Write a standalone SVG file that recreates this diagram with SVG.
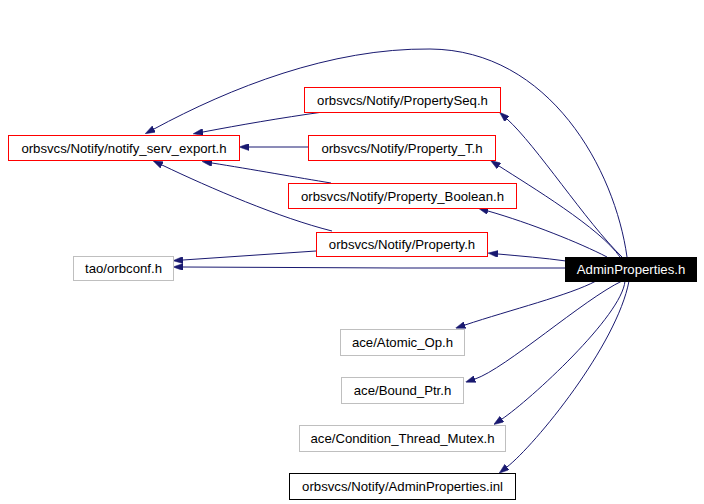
<svg xmlns="http://www.w3.org/2000/svg" width="704" height="504" viewBox="0 0 704 504">
<style>
.n rect{stroke-width:1}
.red rect{fill:#fff;stroke:#ff0000}
.gray rect{fill:#fff;stroke:#bfbfbf}
.blk rect{fill:#fff;stroke:#000}
.cur rect{fill:#000;stroke:#000}
text{font-family:"Liberation Sans",Arial,Helvetica,sans-serif;font-size:13.2px;text-anchor:middle;fill:#000}
.cur text{fill:#fff}
.e path{fill:none;stroke:#191970;stroke-width:1;marker-end:url(#ah)}
</style>
<defs>
<marker id="ah" markerUnits="userSpaceOnUse" viewBox="0 0 10 7" refX="0" refY="3.5" markerWidth="10" markerHeight="7" orient="auto">
<path d="M0,0 L10,3.5 L0,7 Z" fill="#191970" stroke="#191970" stroke-width="0.5"/>
</marker>
</defs>
<rect width="704" height="504" fill="#fff"/>
<g id="edges" class="e">
<path d="M627,257 C615,170 550,50 430,49 C330,48 230,88 154,129"/>
<path d="M622,257 C586,222 536,145 507,119"/>
<path d="M620,257 C600,228 530,186 499,166"/>
<path d="M607,257 C580,243 530,223 488,211"/>
<path d="M566,261 C545,258 520,256 498,254"/>
<path d="M565,268 L397,268 L183,267"/>
<path d="M596,281 C570,295 510,310 465,325"/>
<path d="M622,281 C584,299 505,369 475,379"/>
<path d="M625,281 C622,316 530,400 502,419"/>
<path d="M629,281 C617,345 535,445 507,467"/>
<path d="M323,112 C280,118 240,125 203,132"/>
<path d="M308,147 L249,147"/>
<path d="M331,183 C300,178 250,169 212,163"/>
<path d="M332,231 C280,218 210,188 162,165"/>
<path d="M316,251 L183,260"/>
</g>
<g id="notify_serv_export" class="n red"><rect x="8.5" y="135.5" width="231" height="25"/><text x="124" y="152.5">orbsvcs/Notify/notify_serv_export.h</text></g>
<g id="orbconf" class="n gray"><rect x="73.5" y="256.5" width="100" height="24"/><text x="123.5" y="273">tao/orbconf.h</text></g>
<g id="PropertySeq" class="n red"><rect x="304.5" y="87.5" width="196" height="25"/><text x="402.5" y="104.5">orbsvcs/Notify/PropertySeq.h</text></g>
<g id="Property_T" class="n red"><rect x="308.5" y="135.5" width="187" height="25"/><text x="402" y="152.5">orbsvcs/Notify/Property_T.h</text></g>
<g id="Property_Boolean" class="n red"><rect x="288.5" y="183.5" width="228" height="25"/><text x="402.5" y="200.5">orbsvcs/Notify/Property_Boolean.h</text></g>
<g id="Property" class="n red"><rect x="316.5" y="232.5" width="171" height="24"/><text x="402" y="249">orbsvcs/Notify/Property.h</text></g>
<g id="AdminProperties" class="n cur"><rect x="565.5" y="257.5" width="131" height="24"/><text x="631" y="274">AdminProperties.h</text></g>
<g id="Atomic_Op" class="n gray"><rect x="340.5" y="329.5" width="124" height="26"/><text x="402.5" y="347">ace/Atomic_Op.h</text></g>
<g id="Bound_Ptr" class="n gray"><rect x="341.5" y="377.5" width="122" height="26"/><text x="402.5" y="395">ace/Bound_Ptr.h</text></g>
<g id="Condition_Thread_Mutex" class="n gray"><rect x="299.5" y="425.5" width="206" height="26"/><text x="402.5" y="443">ace/Condition_Thread_Mutex.h</text></g>
<g id="AdminProperties_inl" class="n blk"><rect x="289.5" y="473.5" width="226" height="26"/><text x="402.5" y="491">orbsvcs/Notify/AdminProperties.inl</text></g>
</svg>
